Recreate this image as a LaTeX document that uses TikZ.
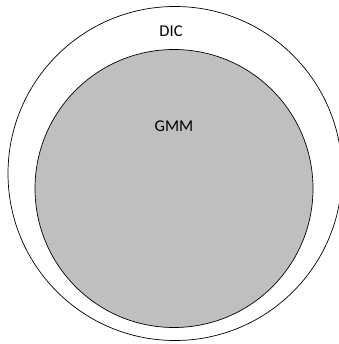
\documentclass[tikz,border=0pt]{standalone}
\usepackage{fontspec}
\setmainfont{Carlito}
\begin{document}
\begin{tikzpicture}[x=1pt,y=-1pt,
  ring/.style={circle,draw=black,line width=0.7pt,inner sep=0pt},
  lbl/.style={font=\fontsize{16.5}{19}\selectfont,inner sep=0pt}]
\useasboundingbox (0,0) rectangle (338,344);
\node[ring,minimum size=334pt] (dic) at (175,173.5) {};
\node[ring,fill=black!25,minimum size=278pt] (gmm) at (174,188.5) {};
\node[lbl] (dict) at (171,31.5) {DIC};
\node[lbl] (gmmt) at (174,126.5) {GMM};
\end{tikzpicture}
\end{document}
